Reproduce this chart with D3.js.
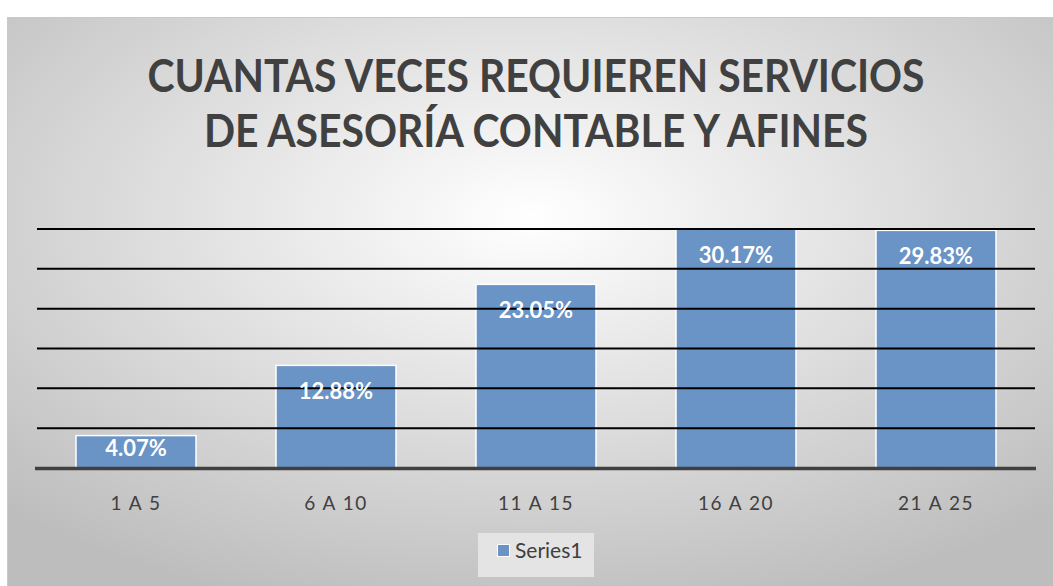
<!DOCTYPE html>
<html>
<head>
<meta charset="utf-8">
<script src="https://cdn.jsdelivr.net/npm/d3@7"></script>
<style>
  body { margin: 0; background: #fff; }
  svg { display: block; }
</style>
</head>
<body>
<div id="chart"></div>
<script>
var categories = ["1 A 5", "6 A 10", "11 A 15", "16 A 20", "21 A 25"];
var values = [0.0407, 0.1288, 0.2305, 0.3017, 0.2983];
var gridTicks = [0.05, 0.10, 0.15, 0.20, 0.25, 0.30];
var titleLines = ["CUANTAS VECES REQUIEREN SERVICIOS", "DE ASESORÍA CONTABLE Y AFINES"];
var seriesName = "Series1";

var W = 1053, H = 586;
var margin = { top: 229, right: 17, bottom: 118, left: 36 };
var width = W - margin.left - margin.right,
  height = H - margin.top - margin.bottom;

var svg = d3.select("#chart").append("svg")
  .attr("width", W)
  .attr("height", H);

// background gradient
var defs = svg.append("defs");
var grad = defs.append("radialGradient")
  .attr("id", "bg")
  .attr("cx", "50%").attr("cy", "35%").attr("r", "72%");
grad.append("stop").attr("offset", "0%").attr("stop-color", "#ffffff");
grad.append("stop").attr("offset", "100%").attr("stop-color", "#bdbdbd");

defs.append("clipPath").attr("id", "plotclip")
  .append("rect").attr("x", 0).attr("y", 0).attr("width", width).attr("height", height);

svg.append("rect")
  .attr("x", 7.5).attr("y", 17.5)
  .attr("width", W - 7).attr("height", H - 17)
  .attr("fill", "url(#bg)")
  .attr("stroke", "#c9c9c9");

// title
var titleLen = [777, 664];
svg.append("text")
  .attr("text-anchor", "middle")
  .attr("font-family", "Lato, 'Open Sans', sans-serif")
  .attr("font-weight", 700)
  .attr("font-size", 45)
  .attr("fill", "#404040")
  .selectAll("tspan")
  .data(titleLines)
  .join("tspan")
  .attr("x", 536)
  .attr("y", (d, i) => 92 + i * 55)
  .attr("textLength", (d, i) => titleLen[i])
  .attr("lengthAdjust", "spacingAndGlyphs")
  .text(d => d);

var x = d3.scaleBand().domain(categories).range([0, width]).paddingInner(0.4).paddingOuter(0.2);
var y = d3.scaleLinear().domain([0, 0.30]).range([height, 0]);

var g = svg.append("g").attr("transform", "translate(" + margin.left + "," + margin.top + ")");

// bars
g.append("g").attr("clip-path", "url(#plotclip)")
  .selectAll("rect")
  .data(values)
  .join("rect")
  .attr("x", (d, i) => x(categories[i]))
  .attr("y", d => y(d))
  .attr("width", x.bandwidth())
  .attr("height", d => height - y(d))
  .attr("fill", "#6a93c6")
  .attr("stroke", "#ffffff")
  .attr("stroke-width", 1.5);

// gridlines drawn over the bars
g.append("g")
  .selectAll("line")
  .data(gridTicks)
  .join("line")
  .attr("x1", 1).attr("x2", width - 1)
  .attr("y1", d => y(d)).attr("y2", d => y(d))
  .attr("stroke", "#000")
  .attr("stroke-width", 2);

// baseline
g.append("line")
  .attr("x1", -1).attr("x2", width)
  .attr("y1", height + 0.5).attr("y2", height + 0.5)
  .attr("stroke", "#404040")
  .attr("stroke-width", 3.5);

// value labels
g.append("g")
  .selectAll("text")
  .data(values)
  .join("text")
  .attr("x", (d, i) => x(categories[i]) + x.bandwidth() / 2)
  .attr("y", d => Math.min(Math.max(y(d), 0) + 34, height - 12))
  .attr("text-anchor", "middle")
  .attr("font-family", "Lato, 'Open Sans', sans-serif")
  .attr("font-weight", 700)
  .attr("font-size", 22)
  .attr("fill", "#ffffff")
  .text(d => d3.format(".2%")(d));

// category axis
var xAxis = g.append("g")
  .attr("transform", "translate(0," + height + ")")
  .call(d3.axisBottom(x).tickSize(0).tickPadding(29));
xAxis.select(".domain").remove();
xAxis.selectAll("text")
  .attr("font-family", "Lato, 'Open Sans', sans-serif")
  .attr("font-size", 19)
  .attr("letter-spacing", "1.5px")
  .attr("fill", "#404040");

// legend
var leg = svg.append("g").attr("transform", "translate(478,533)");
leg.append("rect").attr("width", 116).attr("height", 44).attr("fill", "#e4e4e4");
leg.append("rect").attr("x", 19.5).attr("y", 11.5).attr("width", 12).attr("height", 12)
  .attr("fill", "#6a93c6").attr("stroke", "#fff");
leg.append("text").attr("x", 37).attr("y", 25)
  .attr("font-family", "Lato, 'Open Sans', sans-serif")
  .attr("font-size", 21)
  .attr("fill", "#404040")
  .text(seriesName);
</script>
</body>
</html>
